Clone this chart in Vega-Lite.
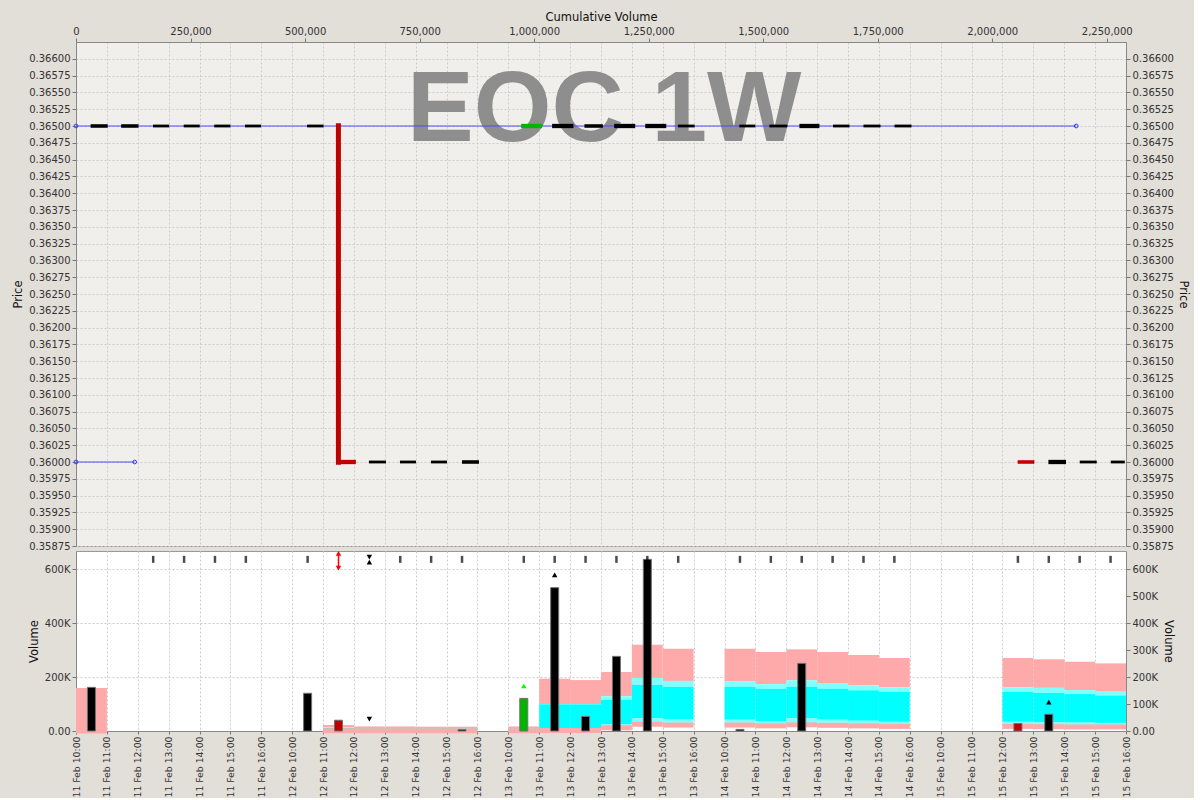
{
  "$schema": "https://vega.github.io/schema/vega-lite/v6.json",
  "padding": {"left": 12, "top": 10, "right": 5, "bottom": 0},
  "background": "#E2DED8",
  "spacing": 5,
  "bounds": "flush",
  "datasets": {
    "dashes": [
      {"v": 31900, "v2": 69100, "price": 0.365, "side": "trade", "lot": "medium"},
      {"v": 98600, "v2": 136400, "price": 0.365, "side": "trade", "lot": "medium"},
      {"v": 168100, "v2": 203200, "price": 0.365, "side": "trade", "lot": "small"},
      {"v": 235100, "v2": 270100, "price": 0.365, "side": "trade", "lot": "small"},
      {"v": 301800, "v2": 337000, "price": 0.365, "side": "trade", "lot": "small"},
      {"v": 368900, "v2": 403800, "price": 0.365, "side": "trade", "lot": "small"},
      {"v": 504400, "v2": 540200, "price": 0.365, "side": "trade", "lot": "small"},
      {"v": 971600, "v2": 1017500, "price": 0.365, "side": "buy", "lot": "large"},
      {"v": 1039300, "v2": 1085900, "price": 0.365, "side": "trade", "lot": "large"},
      {"v": 1109900, "v2": 1150100, "price": 0.365, "side": "trade", "lot": "medium"},
      {"v": 1174800, "v2": 1220700, "price": 0.365, "side": "trade", "lot": "large"},
      {"v": 1242600, "v2": 1288500, "price": 0.365, "side": "trade", "lot": "large"},
      {"v": 1314000, "v2": 1350300, "price": 0.365, "side": "trade", "lot": "small"},
      {"v": 1448000, "v2": 1482900, "price": 0.365, "side": "trade", "lot": "small"},
      {"v": 1513500, "v2": 1552800, "price": 0.365, "side": "trade", "lot": "small"},
      {"v": 1579100, "v2": 1622800, "price": 0.365, "side": "trade", "lot": "large"},
      {"v": 1652500, "v2": 1688400, "price": 0.365, "side": "trade", "lot": "small"},
      {"v": 1718900, "v2": 1756100, "price": 0.365, "side": "trade", "lot": "small"},
      {"v": 1786700, "v2": 1823800, "price": 0.365, "side": "trade", "lot": "small"},
      {"v": 571700, "v2": 611000, "price": 0.36, "side": "sell", "lot": "large"},
      {"v": 639400, "v2": 676600, "price": 0.36, "side": "trade", "lot": "small"},
      {"v": 707100, "v2": 742100, "price": 0.36, "side": "trade", "lot": "small"},
      {"v": 774800, "v2": 809800, "price": 0.36, "side": "trade", "lot": "small"},
      {"v": 842600, "v2": 879700, "price": 0.36, "side": "trade", "lot": "medium"},
      {"v": 2055500, "v2": 2092000, "price": 0.36, "side": "sell", "lot": "medium"},
      {"v": 2122600, "v2": 2161000, "price": 0.36, "side": "trade", "lot": "large"},
      {"v": 2191000, "v2": 2228100, "price": 0.36, "side": "trade", "lot": "small"},
      {"v": 2258800, "v2": 2289400, "price": 0.36, "side": "trade", "lot": "small"}
    ],
    "quote": [
      {"v": 0, "price": 0.365, "seg": "a"},
      {"v": 2183300, "price": 0.365, "seg": "a"},
      {"v": 0, "price": 0.36, "seg": "b"},
      {"v": 128100, "price": 0.36, "seg": "b"}
    ],
    "drop": [
      {"v": 572800, "price": 0.36504, "price2": 0.35996}
    ],
    "watermark": [
      {"v": 1152900, "price": 0.36478, "label": "EOC 1W"}
    ],
    "bands": [
      {"slot": 0, "slotEnd": 1, "b1": 0, "b2": 0, "b3": 0, "b4": 0, "b5": 160000},
      {"slot": 8, "slotEnd": 9, "b1": 1000, "b2": 3000, "b3": 11000, "b4": 13000, "b5": 22000},
      {"slot": 9, "slotEnd": 10, "b1": 1000, "b2": 2000, "b3": 10000, "b4": 11000, "b5": 17000},
      {"slot": 10, "slotEnd": 11, "b1": 1000, "b2": 2000, "b3": 10000, "b4": 11000, "b5": 17000},
      {"slot": 11, "slotEnd": 12, "b1": 1000, "b2": 2000, "b3": 10000, "b4": 11000, "b5": 16000},
      {"slot": 12, "slotEnd": 13, "b1": 1000, "b2": 2000, "b3": 10000, "b4": 11000, "b5": 16000},
      {"slot": 14, "slotEnd": 15, "b1": 1000, "b2": 2000, "b3": 9000, "b4": 10000, "b5": 17000},
      {"slot": 15, "slotEnd": 16, "b1": 2000, "b2": 4000, "b3": 99000, "b4": 100000, "b5": 194000},
      {"slot": 16, "slotEnd": 17, "b1": 2000, "b2": 4000, "b3": 99000, "b4": 100000, "b5": 189000},
      {"slot": 17, "slotEnd": 18, "b1": 12000, "b2": 25000, "b3": 115000, "b4": 129000, "b5": 219000},
      {"slot": 18, "slotEnd": 19, "b1": 25000, "b2": 48000, "b3": 172000, "b4": 197000, "b5": 320000},
      {"slot": 19, "slotEnd": 20, "b1": 22000, "b2": 43000, "b3": 163000, "b4": 186000, "b5": 305000},
      {"slot": 21, "slotEnd": 22, "b1": 22000, "b2": 42000, "b3": 164000, "b4": 185000, "b5": 305000},
      {"slot": 22, "slotEnd": 23, "b1": 19000, "b2": 36000, "b3": 157000, "b4": 174000, "b5": 293000},
      {"slot": 23, "slotEnd": 24, "b1": 23000, "b2": 48000, "b3": 164000, "b4": 188000, "b5": 303000},
      {"slot": 24, "slotEnd": 25, "b1": 21000, "b2": 42000, "b3": 157000, "b4": 178000, "b5": 293000},
      {"slot": 25, "slotEnd": 26, "b1": 19000, "b2": 38000, "b3": 151000, "b4": 170000, "b5": 282000},
      {"slot": 26, "slotEnd": 27, "b1": 17000, "b2": 34000, "b3": 145000, "b4": 162000, "b5": 271000},
      {"slot": 30, "slotEnd": 31, "b1": 17000, "b2": 34000, "b3": 145000, "b4": 162000, "b5": 271000},
      {"slot": 31, "slotEnd": 32, "b1": 16000, "b2": 33000, "b3": 141000, "b4": 160000, "b5": 266000},
      {"slot": 32, "slotEnd": 33, "b1": 15000, "b2": 31000, "b3": 137000, "b4": 152000, "b5": 257000},
      {"slot": 33, "slotEnd": 34, "b1": 15000, "b2": 30000, "b3": 132000, "b4": 146000, "b5": 251000}
    ],
    "bars": [
      {"slot": 0, "vol": 162000, "side": "trade"},
      {"slot": 7, "vol": 140000, "side": "trade"},
      {"slot": 8, "vol": 40000, "side": "sell"},
      {"slot": 12, "vol": 5000, "side": "trade"},
      {"slot": 14, "vol": 121000, "side": "buy"},
      {"slot": 15, "vol": 532000, "side": "trade"},
      {"slot": 16, "vol": 54000, "side": "trade"},
      {"slot": 17, "vol": 277000, "side": "trade"},
      {"slot": 18, "vol": 637000, "side": "trade"},
      {"slot": 21, "vol": 6000, "side": "trade"},
      {"slot": 23, "vol": 251000, "side": "trade"},
      {"slot": 30, "vol": 28000, "side": "sell"},
      {"slot": 31, "vol": 62000, "side": "trade"}
    ],
    "ticks": [
      {"slot": 2, "vol": 637000}, {"slot": 3, "vol": 637000}, {"slot": 4, "vol": 637000},
      {"slot": 5, "vol": 637000}, {"slot": 7, "vol": 637000}, {"slot": 10, "vol": 637000},
      {"slot": 11, "vol": 637000}, {"slot": 12, "vol": 637000}, {"slot": 14, "vol": 637000},
      {"slot": 15, "vol": 637000}, {"slot": 16, "vol": 637000}, {"slot": 17, "vol": 637000},
      {"slot": 18, "vol": 637000}, {"slot": 19, "vol": 637000}, {"slot": 21, "vol": 637000},
      {"slot": 22, "vol": 637000}, {"slot": 23, "vol": 637000}, {"slot": 24, "vol": 637000},
      {"slot": 25, "vol": 637000}, {"slot": 26, "vol": 637000}, {"slot": 30, "vol": 637000},
      {"slot": 31, "vol": 637000}, {"slot": 32, "vol": 637000}, {"slot": 33, "vol": 637000}
    ],
    "signals": [
      {"slot": 8, "vol": 659000, "dir": "up", "side": "sell"},
      {"slot": 8, "vol": 604000, "dir": "down", "side": "sell"},
      {"slot": 9, "vol": 645000, "dir": "down", "side": "trade"},
      {"slot": 9, "vol": 627000, "dir": "up", "side": "trade"},
      {"slot": 9, "vol": 44500, "dir": "down", "side": "trade"},
      {"slot": 14, "vol": 167000, "dir": "up", "side": "buy"},
      {"slot": 15, "vol": 579000, "dir": "up", "side": "trade"},
      {"slot": 31, "vol": 107000, "dir": "up", "side": "trade"}
    ],
    "arrows": [
      {"slot": 8, "vol": 604000, "vol2": 659000, "side": "sell"}
    ]
  },
  "vconcat": [
    {
      "width": 1050,
      "height": 504,
      "view": {"fill": "#F0EFEB", "stroke": "#999999"},
      "layer": [
        {
          "encoding": {
            "x": {"field": "v", "type": "quantitative", "title": "Cumulative Volume",
              "scale": {"domain": [0, 2292000], "nice": false, "zero": false, "padding": 0},
              "axis": {"orient": "top", "values": [0, 250000, 500000, 750000, 1000000, 1250000, 1500000, 1750000, 2000000, 2250000], "format": ",d", "grid": false, "labelFlush": false, "titlePadding": 4}},
            "y": {"field": "price", "type": "quantitative", "title": "Price",
              "scale": {"domain": [0.35875, 0.36625], "nice": false, "zero": false, "padding": 0},
              "axis": {"orient": "left", "grid": true, "format": ".5f", "titlePadding": 5,
                "values": [0.35875, 0.359, 0.35925, 0.3595, 0.35975, 0.36, 0.36025, 0.3605, 0.36075, 0.361, 0.36125, 0.3615, 0.36175, 0.362, 0.36225, 0.3625, 0.36275, 0.363, 0.36325, 0.3635, 0.36375, 0.364, 0.36425, 0.3645, 0.36475, 0.365, 0.36525, 0.3655, 0.36575, 0.366]}}
          },
          "layer": [
            {
              "data": {"name": "watermark"},
              "mark": {"type": "text", "font": "Liberation Sans", "fontWeight": "bold", "fontSize": 100, "color": "#8E8E8E", "align": "center", "baseline": "alphabetic"},
              "encoding": {"text": {"field": "label", "type": "nominal"}}
            },
            {
              "data": {"name": "quote"},
              "mark": {"type": "line", "color": "#4B4BFF", "strokeWidth": 1},
              "encoding": {"detail": {"field": "seg", "type": "nominal"}}
            },
            {
              "data": {"name": "quote"},
              "mark": {"type": "point", "shape": "circle", "filled": false, "color": "#3333FF", "size": 14, "strokeWidth": 1, "opacity": 1}
            },
            {
              "data": {"name": "dashes"},
              "mark": {"type": "rule", "strokeCap": "butt"},
              "encoding": {
                "x2": {"field": "v2"},
                "color": {"field": "side", "type": "nominal", "legend": null, "scale": {"domain": ["buy", "sell", "trade"], "range": ["#00B400", "#C00000", "#000000"]}},
                "strokeWidth": {"field": "lot", "type": "nominal", "legend": null, "scale": {"domain": ["large", "medium", "small"], "range": [4.3, 2.8, 1.6]}}
              }
            },
            {
              "data": {"name": "drop"},
              "mark": {"type": "rule", "color": "#C00000", "strokeWidth": 5, "strokeCap": "butt"},
              "encoding": {"y2": {"field": "price2"}}
            }
          ]
        },
        {
          "data": {"name": "quote"},
          "mark": {"type": "point", "opacity": 0},
          "encoding": {
            "x": {"field": "v", "type": "quantitative", "scale": {"domain": [0, 2292000], "nice": false, "zero": false, "padding": 0}, "axis": null},
            "y": {"field": "price", "type": "quantitative", "title": "Price",
              "scale": {"domain": [0.35875, 0.36625], "nice": false, "zero": false, "padding": 0},
              "axis": {"orient": "right", "grid": false, "format": ".5f", "titlePadding": 4,
                "values": [0.35875, 0.359, 0.35925, 0.3595, 0.35975, 0.36, 0.36025, 0.3605, 0.36075, 0.361, 0.36125, 0.3615, 0.36175, 0.362, 0.36225, 0.3625, 0.36275, 0.363, 0.36325, 0.3635, 0.36375, 0.364, 0.36425, 0.3645, 0.36475, 0.365, 0.36525, 0.3655, 0.36575, 0.366]}}
          }
        },
        {
          "data": {"name": "ticks"},
          "mark": {"type": "point", "opacity": 0},
          "encoding": {
            "x": {"field": "slot", "type": "quantitative", "scale": {"domain": [0, 34], "nice": false, "zero": false, "padding": 0},
              "axis": {"orient": "bottom", "values": [0,1,2,3,4,5,6,7,8,9,10,11,12,13,14,15,16,17,18,19,20,21,22,23,24,25,26,27,28,29,30,31,32,33,34], "grid": true, "labels": false, "ticks": false, "domain": false, "title": null, "minExtent": 0, "maxExtent": 0, "offset": 0, "labelPadding": 0}},
            "y": {"field": "vol", "type": "quantitative", "scale": {"domain": [0, 668000], "nice": false, "zero": true, "padding": 0}, "axis": null}
          }
        }
      ],
      "resolve": {"scale": {"x": "independent", "y": "independent"}}
    },
    {
      "width": 1050,
      "height": 180,
      "view": {"fill": "#FFFFFF", "stroke": "#999999"},
      "encoding": {
        "x": {"field": "slot", "type": "quantitative", "title": null,
          "scale": {"domain": [0, 34], "nice": false, "zero": false, "padding": 0},
          "axis": {"values": [0,1,2,3,4,5,6,7,8,9,10,11,12,13,14,15,16,17,18,19,20,21,22,23,24,25,26,27,28,29,30,31,32,33,34],
            "labelExpr": "(11 + floor(datum.value / 7)) + ' Feb ' + (10 + datum.value % 7) + ':00'",
            "labelAngle": -90, "labelFlush": false, "labelOverlap": false, "labelFontSize": 9.3, "tickSize": 3, "labelPadding": 2, "grid": true, "title": null}}
      },
      "layer": [
        {
          "layer": [
            {
              "data": {"name": "bands"},
              "mark": {"type": "rect", "color": "#FFAAAA"},
              "encoding": {
                "x2": {"field": "slotEnd"},
                "y": {"field": "b4", "type": "quantitative", "title": "Volume",
                  "scale": {"domain": [0, 668000], "nice": false, "zero": true, "padding": 0},
                  "axis": {"orient": "left", "grid": true, "titlePadding": 5,
                    "values": [0, 100000, 200000, 300000, 400000, 500000, 600000],
                    "labelExpr": "datum.value == 0 ? '0.00' : format(datum.value / 1000, 'd') + 'K'"}},
                "y2": {"field": "b5"}
              }
            },
            {
              "data": {"name": "bands"},
              "mark": {"type": "rect", "color": "#80FFFF"},
              "encoding": {
                "x2": {"field": "slotEnd"},
                "y": {"field": "b3", "type": "quantitative", "title": "Volume", "scale": {"domain": [0, 668000], "nice": false, "zero": true, "padding": 0}},
                "y2": {"field": "b4"}
              }
            },
            {
              "data": {"name": "bands"},
              "mark": {"type": "rect", "color": "#00FFFF"},
              "encoding": {
                "x2": {"field": "slotEnd"},
                "y": {"field": "b2", "type": "quantitative", "title": "Volume", "scale": {"domain": [0, 668000], "nice": false, "zero": true, "padding": 0}},
                "y2": {"field": "b3"}
              }
            },
            {
              "data": {"name": "bands"},
              "mark": {"type": "rect", "color": "#80FFFF"},
              "encoding": {
                "x2": {"field": "slotEnd"},
                "y": {"field": "b1", "type": "quantitative", "title": "Volume", "scale": {"domain": [0, 668000], "nice": false, "zero": true, "padding": 0}},
                "y2": {"field": "b2"}
              }
            },
            {
              "data": {"name": "bands"},
              "mark": {"type": "bar", "color": "#FFAAAA"},
              "encoding": {
                "x2": {"field": "slotEnd"},
                "y": {"field": "b1", "type": "quantitative", "title": "Volume", "scale": {"domain": [0, 668000], "nice": false, "zero": true, "padding": 0}}
              }
            },
            {
              "data": {"name": "bars"},
              "mark": {"type": "bar", "width": 8, "xOffset": 15.44, "stroke": "#707070", "strokeWidth": 1},
              "encoding": {
                "y": {"field": "vol", "type": "quantitative", "title": "Volume", "scale": {"domain": [0, 668000], "nice": false, "zero": true, "padding": 0}},
                "color": {"field": "side", "type": "nominal", "legend": null, "scale": {"domain": ["buy", "sell", "trade"], "range": ["#00C000", "#C00000", "#000000"]}}
              }
            },
            {
              "data": {"name": "ticks"},
              "mark": {"type": "tick", "orient": "vertical", "xOffset": 15.44, "color": "#000000", "size": 7, "thickness": 2.5},
              "encoding": {
                "y": {"field": "vol", "type": "quantitative", "title": "Volume", "scale": {"domain": [0, 668000], "nice": false, "zero": true, "padding": 0}}
              }
            },
            {
              "data": {"name": "arrows"},
              "mark": {"type": "rule", "xOffset": 15.44, "strokeWidth": 1.5, "color": "#FF0000"},
              "encoding": {
                "y": {"field": "vol", "type": "quantitative", "title": "Volume", "scale": {"domain": [0, 668000], "nice": false, "zero": true, "padding": 0}},
                "y2": {"field": "vol2"}
              }
            },
            {
              "data": {"name": "signals"},
              "mark": {"type": "point", "xOffset": 15.44, "filled": true, "size": 30, "opacity": 1},
              "encoding": {
                "y": {"field": "vol", "type": "quantitative", "title": "Volume", "scale": {"domain": [0, 668000], "nice": false, "zero": true, "padding": 0}},
                "shape": {"field": "dir", "type": "nominal", "legend": null, "scale": {"domain": ["up", "down"], "range": ["triangle-up", "triangle-down"]}},
                "fill": {"field": "side", "type": "nominal", "legend": null, "scale": {"domain": ["buy", "sell", "trade"], "range": ["#00FF00", "#FF0000", "#000000"]}}
              }
            }
          ]
        },
        {
          "data": {"name": "bars"},
          "mark": {"type": "point", "opacity": 0},
          "encoding": {
            "y": {"field": "vol", "type": "quantitative", "title": "Volume",
              "scale": {"domain": [0, 668000], "nice": false, "zero": true, "padding": 0},
              "axis": {"orient": "right", "grid": false, "titlePadding": 5,
                "values": [0, 100000, 200000, 300000, 400000, 500000, 600000],
                "labelExpr": "datum.value == 0 ? '0.00' : format(datum.value / 1000, 'd') + 'K'"}}
          }
        }
      ],
      "resolve": {"scale": {"y": "independent"}}
    }
  ],
  "config": {
    "font": "DejaVu Sans",
    "axis": {
      "labelFont": "DejaVu Sans", "labelFontSize": 10, "labelColor": "#333333",
      "titleFont": "DejaVu Sans", "titleFontSize": 11.5, "titleFontWeight": "normal", "titleColor": "#111111",
      "tickColor": "#777777", "domainColor": "#888888", "tickSize": 4, "labelPadding": 2,
      "gridColor": "#CCCCCC", "gridDash": [2, 2], "gridWidth": 1
    }
  }
}
